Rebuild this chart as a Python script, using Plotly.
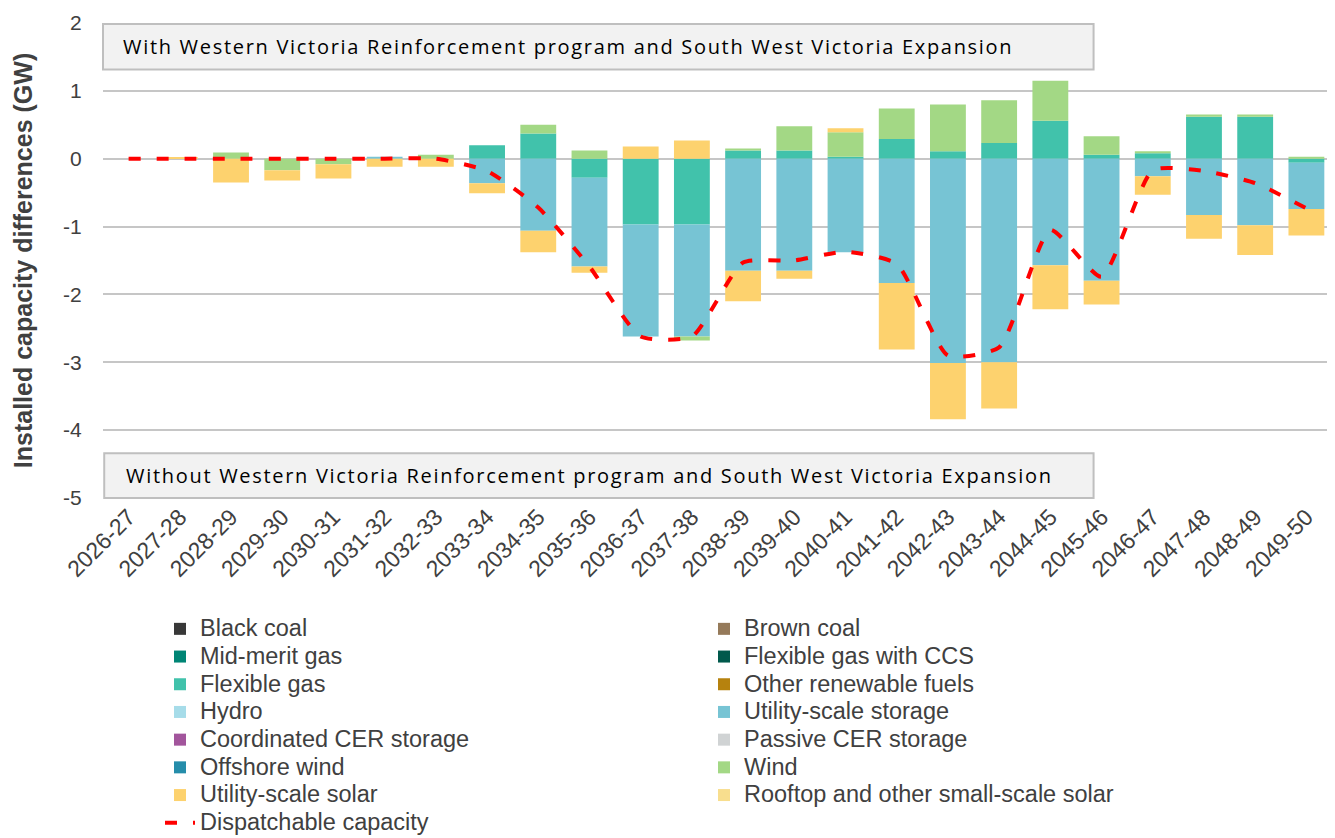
import plotly.graph_objects as go

categories = ["2026-27", "2027-28", "2028-29", "2029-30", "2030-31", "2031-32", "2032-33",
              "2033-34", "2034-35", "2035-36", "2036-37", "2037-38", "2038-39", "2039-40",
              "2040-41", "2041-42", "2042-43", "2043-44", "2044-45", "2045-46", "2046-47",
              "2047-48", "2048-49", "2049-50"]

zeros = [0] * len(categories)
black_coal = zeros
brown_coal = zeros
mid_merit_gas = zeros
flexible_gas_ccs = zeros
flexible_gas = [0, 0, 0, 0, 0, 0, 0, 0.20, 0.37, -0.28, -0.97, -0.97, 0.12, 0.12, 0.03,
                0.29, 0.11, 0.23, 0.56, 0.06, 0.08, 0.62, 0.62, -0.06]
other_renewable_fuels = zeros
hydro = zeros
utility_storage = [0, 0, 0, 0, 0, 0.03, 0, -0.36, -1.06, -1.31, -1.65, -1.65, -1.65, -1.65,
                   -1.38, -1.83, -3.01, -3.00, -1.57, -1.80, -0.26, -0.83, -0.98, -0.68]
coordinated_cer = zeros
passive_cer = zeros
offshore_wind = zeros
wind = [0, 0, 0.09, -0.17, -0.08, 0, 0.06, 0, 0.13, 0.12, 0, -0.06, 0.03, 0.36, 0.36,
        0.45, 0.69, 0.63, 0.59, 0.27, 0.03, 0.03, 0.03, 0.03]
utility_solar = [0, 0.02, -0.35, -0.15, -0.21, -0.12, -0.12, -0.15, -0.32, -0.09, 0.18, 0.27,
                 -0.45, -0.12, 0.06, -0.98, -0.83, -0.68, -0.65, -0.35, -0.27, -0.35, -0.44, -0.39]
rooftop_solar = zeros
dispatchable = [0, 0, 0, 0, 0, 0, 0, -0.18, -0.72, -1.59, -2.62, -2.62, -1.53, -1.50, -1.37,
                -1.55, -2.90, -2.78, -1.05, -1.74, -0.17, -0.18, -0.36, -0.73]

y_tick_vals = [-5, -4, -3, -2, -1, 0, 1, 2]
y_tick_text = ["-5", "-4", "-3", "-2", "-1", "0", "1", "2"]

series = [
    ("Black coal", black_coal, "#383838"),
    ("Brown coal", brown_coal, "#957A5A"),
    ("Mid-merit gas", mid_merit_gas, "#008575"),
    ("Flexible gas with CCS", flexible_gas_ccs, "#00594C"),
    ("Flexible gas", flexible_gas, "#41C2AB"),
    ("Other renewable fuels", other_renewable_fuels, "#B6820E"),
    ("Hydro", hydro, "#A6DCE9"),
    ("Utility-scale storage", utility_storage, "#77C4D4"),
    ("Coordinated CER storage", coordinated_cer, "#A2559C"),
    ("Passive CER storage", passive_cer, "#D0D3D4"),
    ("Offshore wind", offshore_wind, "#258DAA"),
    ("Wind", wind, "#A3D885"),
    ("Utility-scale solar", utility_solar, "#FDD26E"),
    ("Rooftop and other small-scale solar", rooftop_solar, "#F8DE8E"),
]

LEG = '<span style="font-size:23.5px">{}</span>'
BOX = '<span style="letter-spacing:1.7px">{}</span>'

fig = go.Figure()
for name, vals, col in series:
    fig.add_trace(go.Bar(x=categories, y=vals, name=LEG.format(name),
                         marker=dict(color=col, line=dict(width=0))))

fig.add_trace(go.Scatter(x=categories, y=dispatchable, name=LEG.format("Dispatchable capacity"),
                         mode="lines",
                         line=dict(color="#FF0000", width=4, dash="12px,16px",
                                   shape="spline", smoothing=0.55)))

# label boxes
fig.add_shape(type="rect", xref="paper", yref="paper", x0=0, x1=0.806, y0=0.902, y1=0.998,
              fillcolor="#F2F2F2", line=dict(color="#BFBFBF", width=2), layer="above")
fig.add_shape(type="rect", xref="paper", yref="paper", x0=0.001, x1=0.806, y0=0.0, y1=0.094,
              fillcolor="#F2F2F2", line=dict(color="#BFBFBF", width=2), layer="above")
fig.add_annotation(xref="paper", yref="paper", x=0.015, y=0.95, xanchor="left", yanchor="middle",
                   showarrow=False,
                   text=BOX.format("With Western Victoria Reinforcement program and South West Victoria Expansion"),
                   font=dict(family="Open Sans", size=20, color="#000000"))
fig.add_annotation(xref="paper", yref="paper", x=0.017, y=0.047, xanchor="left", yanchor="middle",
                   showarrow=False,
                   text=BOX.format("Without Western Victoria Reinforcement program and South West Victoria Expansion"),
                   font=dict(family="Open Sans", size=20, color="#000000"))

fig.update_layout(
    width=1335, height=838,
    margin=dict(l=95, r=11, t=15, b=348),
    barmode="relative", bargap=0.3,
    plot_bgcolor="white", paper_bgcolor="white",
    font=dict(family="Liberation Sans, Arial", color="#404040"),
    yaxis=dict(range=[-5, 2], tickvals=y_tick_vals, ticktext=y_tick_text,
               gridcolor="#C6C6C6", gridwidth=1.5,
               zeroline=True, zerolinecolor="#C6C6C6", zerolinewidth=1.5,
               showline=False, ticks="outside", ticklen=16, tickcolor="rgba(0,0,0,0)",
               tickfont=dict(size=21, color="#404040"), automargin=False,
               title=dict(text="<b>Installed capacity differences (GW)</b>",
                          font=dict(size=25, color="#404040"), standoff=23)),
    xaxis=dict(tickangle=-45, tickfont=dict(size=23, color="#404040"), showgrid=False,
               ticks="", showline=False, automargin=False),
    legend=dict(orientation="h", xref="container", yref="container",
                x=152 / 1335, y=1 - 602 / 838, xanchor="left", yanchor="top",
                entrywidth=499, entrywidthmode="pixels", traceorder="normal",
                font=dict(size=19, color="#404040"), bgcolor="rgba(0,0,0,0)"),
    showlegend=True,
)

fig.write_html("out.html")
